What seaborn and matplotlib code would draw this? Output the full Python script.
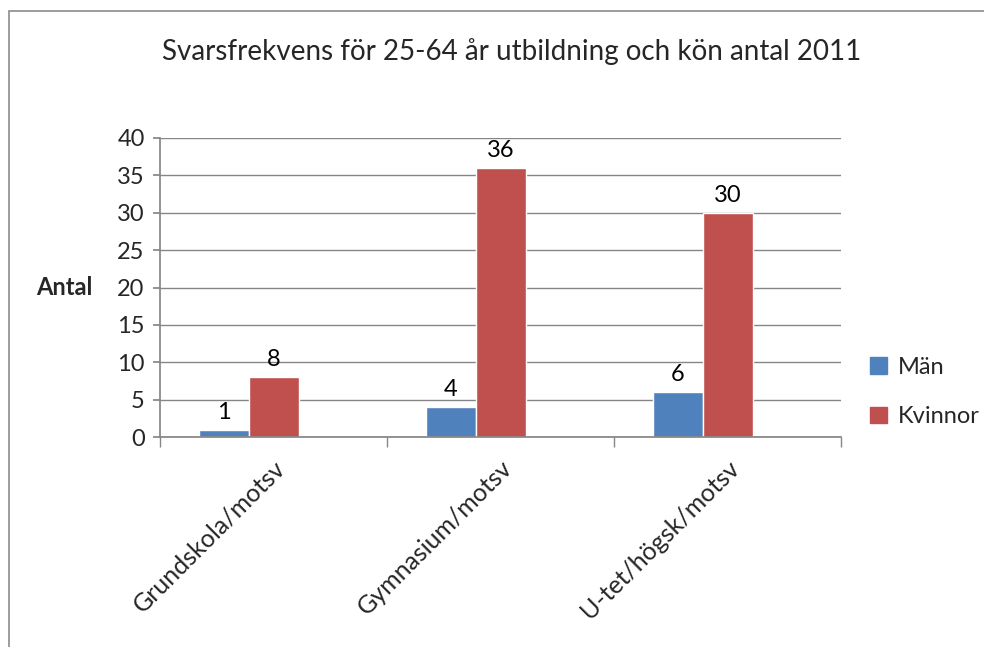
import matplotlib
matplotlib.use("Agg")
import matplotlib.pyplot as plt
import seaborn as sns
import pandas as pd
from matplotlib.patches import Rectangle

# data
categories = ['Grundskola/motsv', 'Gymnasium/motsv', 'U-tet/högsk/motsv']
man = [1, 4, 6]
kvinnor = [8, 36, 30]
series = ['Män', 'Kvinnor']

df = pd.DataFrame({
    'kategori': categories * 2,
    'antal': man + kvinnor,
    'kon': ['Män'] * 3 + ['Kvinnor'] * 3,
})

sns.set_theme(style='white')
plt.rcParams['font.family'] = ['Lato', 'DejaVu Sans']

fig = plt.figure(figsize=(9.84, 6.47), dpi=100)
ax = fig.add_axes([160/984, 1 - 437/647, (841 - 160)/984, (437 - 138)/647])

# the original chart reserves a third (empty) slot in each group
sns.barplot(data=df, x='kategori', y='antal', hue='kon',
            hue_order=series + ['_tom'], order=categories,
            palette={'Män': '#4F81BD', 'Kvinnor': '#C0504D', '_tom': '#FFFFFF'},
            width=150/227, saturation=1, ax=ax, legend=False)

for c in ax.containers:
    ax.bar_label(c, fontsize=17, padding=5, color='black')

ax.set_ylim(0, 40)
ax.set_yticks(range(0, 41, 5))
ax.set_xlim(-0.5, 2.5)
ax.grid(axis='y', color='#868686', linewidth=1)
ax.set_axisbelow(True)
for s in ['top', 'right']:
    ax.spines[s].set_visible(False)
ax.spines['left'].set_color('#868686')
ax.spines['bottom'].set_color('#868686')
ax.tick_params(axis='y', left=True, length=5, color='#868686', labelsize=17, pad=6)
ax.tick_params(axis='x', bottom=False, labelsize=18, pad=8)
ax.set_xticks([-0.5, 0.5, 1.5, 2.5], minor=True)
ax.tick_params(axis='x', which='minor', bottom=True, length=7, color='#868686')
ax.set_xticks(range(3))
ax.set_xticklabels(categories, rotation=45, ha='right', rotation_mode='anchor')
ax.set_xlabel('')
ax.set_ylabel('Antal', fontsize=17, fontweight='bold', rotation=0, labelpad=38, va='center')

fig.text(0.52, 1 - 52/647, 'Svarsfrekvens för 25-64 år utbildning och kön antal 2011',
         ha='center', va='center', fontsize=20)

handles = [Rectangle((0, 0), 1, 1, color='#4F81BD'), Rectangle((0, 0), 1, 1, color='#C0504D')]
fig.legend(handles, series, loc='center left', bbox_to_anchor=(870/984, 1 - 392/647),
           frameon=False, fontsize=17, handlelength=0.7, handleheight=0.7,
           labelspacing=1.2, handletextpad=0.5, borderaxespad=0, borderpad=0)

fig.patches.append(Rectangle((9/984, -0.5), 2, 0.5 + (1 - 11/647), transform=fig.transFigure,
                             fill=False, edgecolor='#8C8C8C', linewidth=1.2))

fig.savefig('out.png', dpi=100)
